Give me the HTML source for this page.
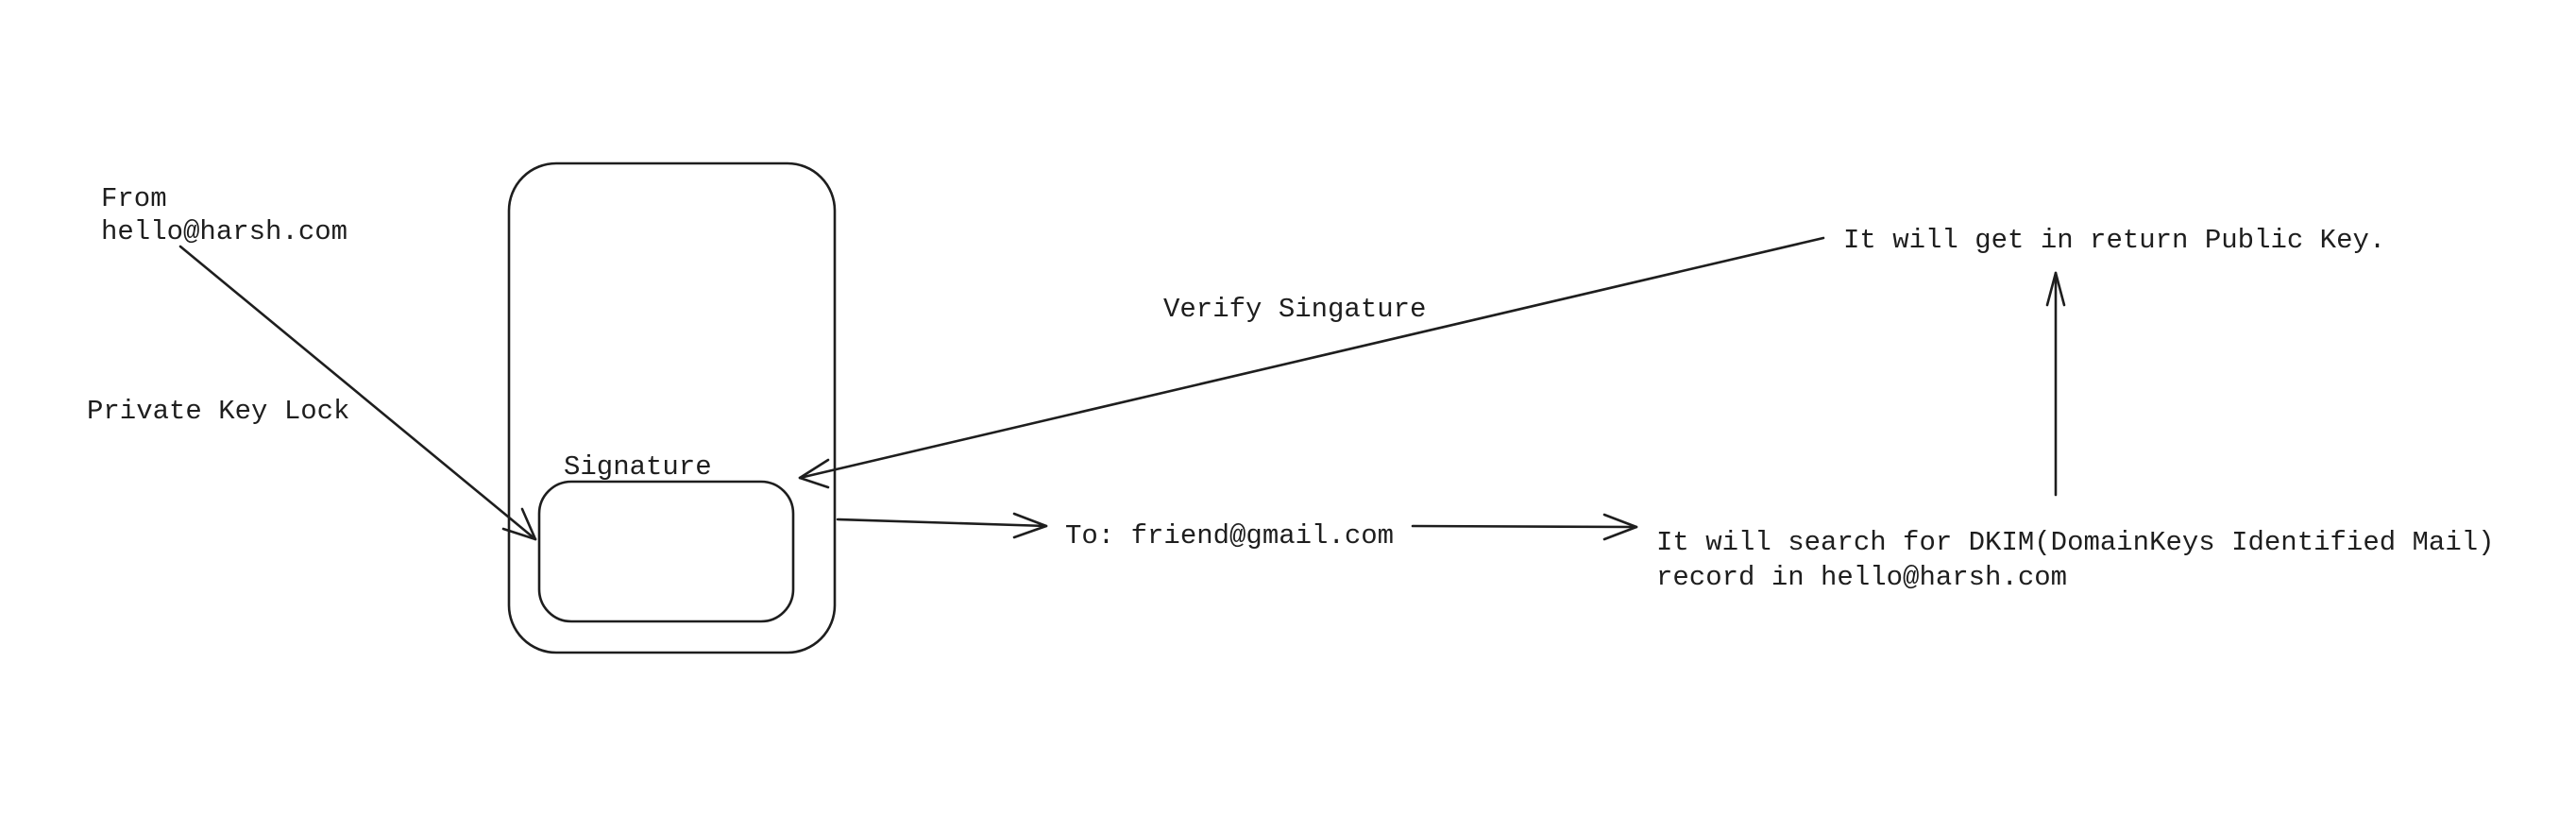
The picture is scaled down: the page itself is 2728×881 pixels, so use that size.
<!DOCTYPE html>
<html><head><meta charset="utf-8"><style>
html,body{margin:0;padding:0;background:#fff;}
svg text{font-family:"Liberation Mono",monospace;font-size:29px;fill:#1e1e1e;}
</style></head><body>
<svg width="2728" height="876" viewBox="0 0 2728 876" xmlns="http://www.w3.org/2000/svg">
<g fill="none" stroke="#1e1e1e" stroke-width="2.6" stroke-linecap="round" stroke-linejoin="round">
<rect x="539" y="173" width="345" height="518" rx="50"/>
<rect x="571" y="510" width="269" height="148" rx="34"/>
<!-- from arrow -->
<path d="M191 261 L567 571"/>
<path d="M567 571 L533 560 M567 571 L553 539"/>
<!-- verify arrow -->
<path d="M1931 252 L847 506"/>
<path d="M847 506 L877 487 M847 506 L877 516"/>
<!-- to arrow -->
<path d="M887 550 L1108 557"/>
<path d="M1108 557 L1074 544 M1108 557 L1074 569"/>
<!-- dkim arrow -->
<path d="M1496 557 L1733 558"/>
<path d="M1733 558 L1699 545 M1733 558 L1699 571"/>
<!-- vertical -->
<path d="M2177 524 L2177 289"/>
<path d="M2177 289 L2168 323 M2177 289 L2186 323"/>
</g>
<text x="107" y="218">From</text>
<text x="107" y="253">hello@harsh.com</text>
<text x="92" y="443">Private Key Lock</text>
<text x="597" y="502">Signature</text>
<text x="1232" y="335">Verify Singature</text>
<text x="1952" y="262">It will get in return Public Key.</text>
<text x="1128" y="575">To: friend@gmail.com</text>
<text x="1754" y="582">It will search for DKIM(DomainKeys Identified Mail)</text>
<text x="1754" y="619">record in hello@harsh.com</text>
</svg>
</body></html>
